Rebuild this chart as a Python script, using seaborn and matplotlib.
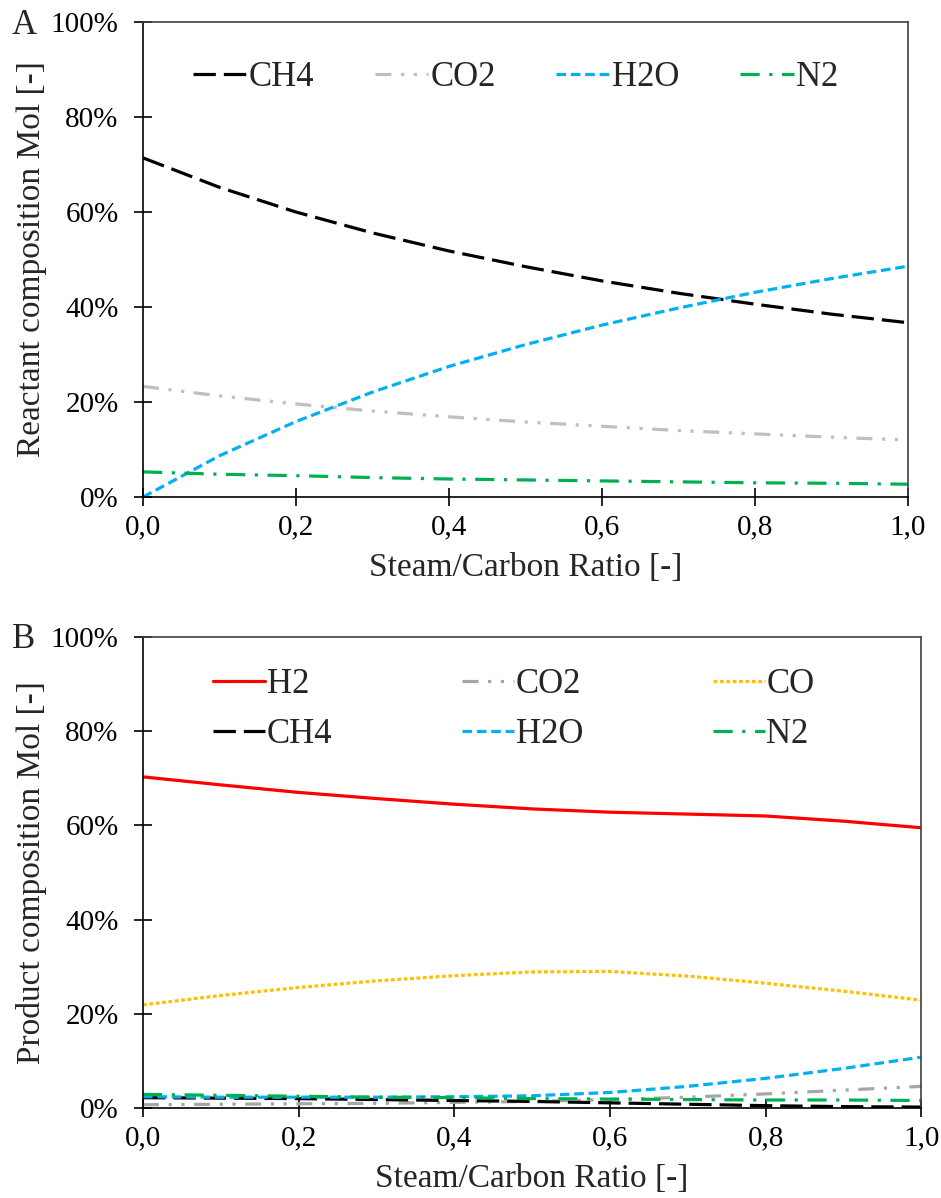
import numpy as np
import pandas as pd
import matplotlib
matplotlib.use("Agg")
import matplotlib.pyplot as plt
import seaborn as sns
from matplotlib.ticker import FuncFormatter, MultipleLocator

# Steam/Carbon ratio
ratio = [0.0, 0.1, 0.2, 0.3, 0.4, 0.5, 0.6, 0.7, 0.8, 0.9, 1.0]

# Panel A - reactant composition (%)
react_ch4 = [71.4, 65.2, 60.0, 55.6, 51.8, 48.5, 45.5, 42.9, 40.6, 38.5, 36.7]
react_co2 = [23.3, 21.3, 19.6, 18.1, 16.9, 15.8, 14.9, 14.0, 13.3, 12.6, 12.0]
react_h2o = [0.0, 8.7, 15.9, 22.1, 27.5, 32.1, 36.2, 39.8, 43.1, 46.0, 48.6]
react_n2 = [5.3, 4.8, 4.5, 4.1, 3.8, 3.6, 3.4, 3.2, 3.0, 2.9, 2.7]

# Panel B - product composition (%)
prod_h2 = [70.3, 68.6, 67.0, 65.7, 64.5, 63.5, 62.8, 62.4, 62.0, 60.9, 59.5]
prod_co2 = [0.7, 0.8, 0.9, 1.0, 1.2, 1.4, 1.8, 2.3, 3.0, 3.8, 4.6]
prod_co = [21.9, 23.9, 25.6, 27.0, 28.1, 28.9, 29.0, 28.0, 26.5, 24.8, 22.9]
prod_ch4 = [2.2, 2.1, 2.0, 1.8, 1.6, 1.4, 1.1, 0.8, 0.5, 0.3, 0.2]
prod_h2o = [2.4, 2.3, 2.3, 2.3, 2.4, 2.6, 3.3, 4.6, 6.3, 8.4, 10.8]
prod_n2 = [2.9, 2.7, 2.5, 2.3, 2.2, 2.0, 1.9, 1.8, 1.7, 1.7, 1.6]

react_names = ["CH4", "CO2", "H2O", "N2"]
react_values = [react_ch4, react_co2, react_h2o, react_n2]

prod_names = ["H2", "CO2", "CO", "CH4", "H2O", "N2"]
prod_values = [prod_h2, prod_co2, prod_co, prod_ch4, prod_h2o, prod_n2]

styles = {
    "H2": ("#ff0000", ""),
    "CH4": ("#000000", (7, 2.5)),
    "H2O": ("#00b0f0", (3, 1.5)),
    "N2": ("#00b050", (6, 3, 1, 3)),
    "CO": ("#ffc000", (1.2, 0.8)),
}
co2_top = "#bfbfbf"
co2_bottom = "#a6a6a6"
co2_dash = (5, 3, 1, 3, 1, 3)


def long_frame(names, values):
    rows = []
    for name, vals in zip(names, values):
        for x, v in zip(ratio, vals):
            rows.append({"ratio": x, "value": v / 100.0, "species": name})
    return pd.DataFrame(rows)


sns.set_style("ticks")
plt.rcParams["font.family"] = ["Liberation Serif", "DejaVu Serif"]
plt.rcParams["font.size"] = 21

fig = plt.figure(figsize=(9.41, 11.98), dpi=100)
ax_a = fig.add_axes([0.152, 0.5851, 0.813, 0.3965])
ax_b = fig.add_axes([0.152, 0.0751, 0.827, 0.3932])


def draw_panel(ax, names, values, co2_color, ylabel):
    df = long_frame(names, values)
    palette = {}
    dashes = {}
    for n in names:
        if n == "CO2":
            palette[n] = co2_color
            dashes[n] = co2_dash
        else:
            palette[n] = styles[n][0]
            dashes[n] = styles[n][1]
    sns.lineplot(
        data=df, x="ratio", y="value", hue="species", style="species",
        hue_order=names, style_order=names, palette=palette, dashes=dashes,
        linewidth=2.3, ax=ax, legend=False
    )
    ax.set_xlim(0, 1)
    ax.set_ylim(0, 1)
    ax.xaxis.set_major_locator(MultipleLocator(0.2))
    ax.yaxis.set_major_locator(MultipleLocator(0.2))
    ax.xaxis.set_major_formatter(FuncFormatter(lambda v, p: f"{v:.1f}".replace(".", ",")))
    ax.yaxis.set_major_formatter(FuncFormatter(lambda v, p: f"{v * 100:.0f}%"))
    ax.tick_params(direction="inout", length=13, width=1.2, labelsize=21,
                   colors="black")
    ax.tick_params(axis="y", pad=11)
    ax.tick_params(axis="x", pad=6)
    for s in ax.spines.values():
        s.set_visible(True)
        s.set_color("#404040")
        s.set_linewidth(1.2)
    ax.spines["left"].set_color("black")
    ax.spines["bottom"].set_color("black")
    ax.set_xlabel("Steam/Carbon Ratio [-]", fontsize=24, labelpad=9)
    ax.set_ylabel(ylabel, fontsize=24, labelpad=3)
    lines = ax.get_lines()[:len(names)]
    return lines


lines_a = draw_panel(ax_a, react_names, react_values, co2_top,
                     "Reactant composition Mol [-]")
ax_a.legend(lines_a, react_names, ncol=4, frameon=False, loc="upper left",
            bbox_to_anchor=(0.065, 0.918), borderaxespad=0, borderpad=0,
            handlelength=1.55, handletextpad=0.05,
            columnspacing=1.75, fontsize=25)

lines_b = draw_panel(ax_b, prod_names, prod_values, co2_bottom,
                     "Product composition Mol [-]")
order = [0, 3, 1, 4, 2, 5]
ax_b.legend([lines_b[i] for i in order], [prod_names[i] for i in order],
            ncol=3, frameon=False, loc="upper left",
            bbox_to_anchor=(0.09, 0.934), borderaxespad=0, borderpad=0,
            handlelength=1.5, handletextpad=0.05,
            columnspacing=3.73, labelspacing=0.5, fontsize=25)

fig.text(12 / 941, 1 - 25 / 1198, "A", fontsize=25, va="center", ha="left")
fig.text(12 / 941, 1 - 640 / 1198, "B", fontsize=25, va="center", ha="left")

plt.savefig("out.png", dpi=100)
plt.close()
